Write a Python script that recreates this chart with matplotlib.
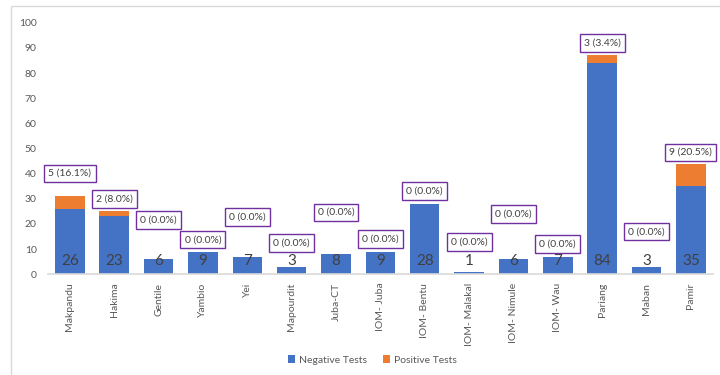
import numpy as np
import matplotlib
matplotlib.use("Agg")
import matplotlib.pyplot as plt
from matplotlib.patches import Rectangle

sites = ["Makpandu", "Hakima", "Gentile", "Yambio", "Yei", "Mapourdit", "Juba-CT",
         "IOM- Juba", "IOM- Bentu", "IOM- Malakal", "IOM- Nimule", "IOM- Wau",
         "Pariang", "Maban", "Pamir"]
negative = [26, 23, 6, 9, 7, 3, 8, 9, 28, 1, 6, 7, 84, 3, 35]
positive = [5, 2, 0, 0, 0, 0, 0, 0, 0, 0, 0, 0, 3, 0, 9]

# where Excel put the boxed labels (data units)
box_y = [40.1, 29.9, 21.6, 13.8, 22.8, 12.4, 24.6, 14.0, 33.1, 12.8, 24.0, 12.0, 91.9, 16.9, 48.4]

BLUE = "#4472C4"
ORANGE = "#ED7D31"
PURPLE = "#7030A0"
GREY = "#595959"

plt.rcParams["font.family"] = ["Lato", "DejaVu Sans"]

fig = plt.figure(figsize=(7.2, 3.75), dpi=100)
ax = fig.add_axes([0.0662, 0.2685, 0.9241, 0.671])

x = np.arange(len(sites))
neg = np.array(negative)
pos = np.array(positive)
ax.bar(x, neg, width=0.665, color=BLUE, label="Negative Tests", zorder=2)
ax.bar(x, pos, width=0.665, bottom=neg, color=ORANGE, label="Positive Tests", zorder=2)

for i in range(len(sites)):
    ax.text(x[i], 5.4, str(negative[i]), ha="center", va="center",
            fontsize=11, color="#404040", zorder=3)
    pct = 100.0 * positive[i] / (negative[i] + positive[i])
    ax.text(x[i], box_y[i], f"{positive[i]} ({pct:.1f}%)", ha="center", va="center",
            fontsize=7.5, color="#404040", zorder=3,
            bbox=dict(boxstyle="square,pad=0.4", fc="white", ec=PURPLE, lw=1.0))

ax.set_xlim(-0.5, 14.5)
ax.set_ylim(0, 100)
ax.set_yticks(range(0, 101, 10))
ax.set_xticks(x)
ax.set_xticklabels(sites, rotation=90, fontsize=7.5, color=GREY)
ax.tick_params(axis="y", length=0, pad=8, labelsize=7.5, labelcolor=GREY)
ax.tick_params(axis="x", length=0, pad=6)
for s in ["top", "right", "left"]:
    ax.spines[s].set_visible(False)
ax.spines["bottom"].set_color("#D9D9D9")
ax.spines["bottom"].set_linewidth(1.2)

fig.legend(loc="center", bbox_to_anchor=(0.517, 0.04), ncol=2, frameon=False,
           fontsize=7.5, handlelength=0.7, handleheight=0.7, handletextpad=0.4,
           columnspacing=1.5, labelcolor=GREY)

# chart area border
fig.patches.append(Rectangle((11 / 720, -0.1), 1.0, 1 - 6 / 375 + 0.1,
                             transform=fig.transFigure, fill=False,
                             ec="#D9D9D9", lw=1.0))

fig.savefig("out.png", dpi=100)
